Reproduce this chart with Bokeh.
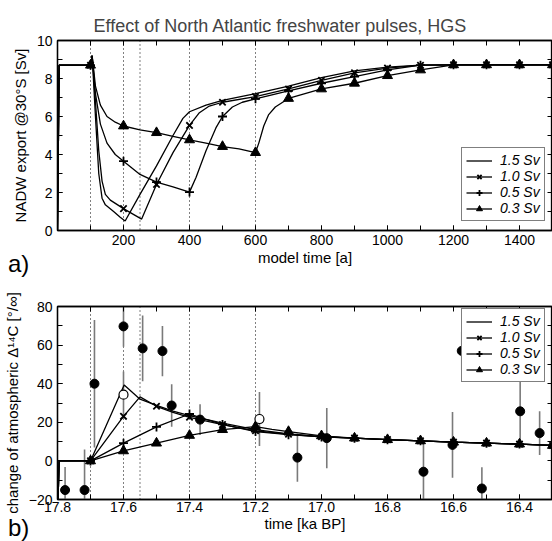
import numpy as np
from bokeh.plotting import figure
from bokeh.models import (Range1d, FixedTicker, LinearAxis, Span, Legend, LegendItem,
                          PrintfTickFormatter, CustomJSTickFormatter, Div)
from bokeh.layouts import column
from bokeh.embed import file_html
from bokeh.resources import INLINE

FONT = "Liberation Sans"

# ---------------- panel a: NADW export @30S [Sv] vs model time [a] ----------------
nadw_t_15 = [0, 5, 100, 105, 115, 125, 135, 145, 170, 190, 205, 250, 300, 350, 380, 400, 450, 500,
             600, 700, 800, 900, 1000, 1100, 1200, 1300, 1400, 1500]
nadw_v_15 = [0, 8.7, 8.7, 9.2, 6.0, 3.0, 1.7, 1.35, 1.0, 0.7, 0.5, 1.9, 3.4, 5.0, 5.9, 6.25, 6.6, 6.85,
             7.2, 7.6, 8.05, 8.4, 8.6, 8.7, 8.72, 8.72, 8.72, 8.72]
nadw_t_10 = [0, 5, 100, 105, 115, 125, 135, 145, 160, 200, 230, 255, 300, 350, 400, 430, 460, 500,
             600, 700, 800, 900, 1000, 1100, 1200, 1300, 1400, 1500]
nadw_v_10 = [0, 8.7, 8.7, 9.2, 6.8, 4.2, 2.6, 1.9, 1.6, 1.15, 0.85, 0.6, 2.42, 4.1, 5.53, 6.2, 6.55, 6.75,
             7.05, 7.45, 7.9, 8.3, 8.55, 8.7, 8.72, 8.72, 8.72, 8.72]
nadw_t_05 = [0, 5, 100, 105, 115, 130, 150, 175, 200, 250, 300, 350, 400, 420, 450, 480, 500, 530, 560,
             600, 700, 800, 900, 1000, 1100, 1200, 1300, 1400, 1500]
nadw_v_05 = [0, 8.7, 8.7, 9.2, 7.2, 5.6, 4.6, 4.0, 3.65, 2.95, 2.55, 2.3, 2.02, 2.8, 4.2, 5.4, 6.0, 6.5, 6.75,
             6.93, 7.35, 7.75, 8.1, 8.45, 8.7, 8.72, 8.72, 8.72, 8.72]
nadw_t_03 = [0, 5, 100, 105, 115, 130, 150, 175, 200, 250, 300, 350, 400, 450, 500, 550, 600, 610, 625,
             640, 660, 700, 800, 900, 1000, 1100, 1200, 1300, 1400, 1500]
nadw_v_03 = [0, 8.7, 8.7, 9.2, 7.6, 6.6, 6.0, 5.7, 5.5, 5.3, 5.15, 4.95, 4.77, 4.6, 4.42, 4.3, 4.1, 4.6, 5.5,
             6.1, 6.5, 6.95, 7.45, 7.75, 8.15, 8.45, 8.72, 8.72, 8.72, 8.72]
pulse_end_a = [100, 200, 250, 400, 600]
xticks_a = [200, 400, 600, 800, 1000, 1200, 1400]
xminor_a = list(range(100, 1600, 100))
yticks_a = [0, 2, 4, 6, 8, 10]
yminor_a = list(range(0, 11))

# ---------------- panel b: change of atmospheric D14C vs time [ka BP] ----------------
c14_t_15 = [17.8, 17.795, 17.7, 17.598, 17.57, 17.55, 17.5, 17.45, 17.4, 17.3, 17.2, 17.1, 17.0,
            16.9, 16.8, 16.7, 16.6, 16.5, 16.4, 16.3]
c14_v_15 = [-30, 0, 0, 39.3, 35.0, 32.0, 28.8, 25.8, 23.5, 19.6, 16.2, 14.0, 12.6,
            11.8, 11.0, 10.4, 9.7, 9.2, 8.7, 8.0]
c14_t_10 = [17.8, 17.795, 17.7, 17.6, 17.55, 17.5, 17.45, 17.4, 17.3, 17.2, 17.1, 17.0,
            16.9, 16.8, 16.7, 16.6, 16.5, 16.4, 16.3]
c14_v_10 = [-30, 0, 0, 23.1, 33.2, 28.3, 25.2, 22.6, 18.8, 15.6, 13.8, 12.5,
            11.8, 11.0, 10.4, 9.7, 9.2, 8.7, 8.0]
c14_t_05 = [17.8, 17.795, 17.7, 17.6, 17.5, 17.4, 17.35, 17.3, 17.2, 17.1, 17.0,
            16.9, 16.8, 16.7, 16.6, 16.5, 16.4, 16.3]
c14_v_05 = [-30, 0, 0, 9.2, 17.6, 24.3, 21.5, 18.9, 15.2, 13.6, 12.4,
            11.8, 11.0, 10.4, 9.7, 9.2, 8.7, 8.0]
c14_t_03 = [17.8, 17.795, 17.7, 17.6, 17.5, 17.4, 17.3, 17.2, 17.15, 17.1, 17.0,
            16.9, 16.8, 16.7, 16.6, 16.5, 16.4, 16.3]
c14_v_03 = [-30, 0, 0, 5.2, 9.2, 13.2, 16.2, 17.8, 16.3, 15.2, 13.0,
            11.8, 11.0, 10.4, 9.7, 9.2, 8.7, 8.0]
obs_t = [17.777, 17.718, 17.688, 17.600, 17.542, 17.482, 17.454, 17.368, 17.073, 16.984,
         16.691, 16.603, 16.575, 16.514, 16.398, 16.339]
obs_v = [-15.1, -15.1, 40.0, 69.7, 58.3, 56.9, 28.7, 21.4, 1.7, 11.8,
         -5.6, 8.3, 57.0, -14.3, 25.7, 14.4]
obs_e = [12, 21, 33, 10.5, 17, 13, 11, 8, 12.5, 15.6,
         16, 17, 10, 11, 17, 11.3]
open_t = [17.600, 17.188]
open_v = [34.3, 21.7]
open_e = [12, 14]
pulse_end_b = [17.7, 17.6, 17.55, 17.4, 17.2]
xticks_b = [17.8, 17.6, 17.4, 17.2, 17.0, 16.8, 16.6, 16.4]
xminor_b = [17.8, 17.7, 17.6, 17.5, 17.4, 17.3, 17.2, 17.1, 17.0, 16.9, 16.8, 16.7, 16.6, 16.5, 16.4, 16.3]
yticks_b = [-20, 0, 20, 40, 60, 80]
yminor_b = [-20, -10, 0, 10, 20, 30, 40, 50, 60, 70, 80]

labels = ["1.5 Sv", "1.0 Sv", "0.5 Sv", "0.3 Sv"]
markers = [None, "x", "cross", "triangle"]


def style_axis(ax, show_labels=True):
    ax.axis_line_color = "black"
    ax.axis_line_width = 1.3
    ax.major_tick_in = 5
    ax.major_tick_out = 0
    ax.minor_tick_in = 5
    ax.minor_tick_out = 0
    ax.major_tick_line_color = "black"
    ax.minor_tick_line_color = "black"
    ax.major_label_text_font = FONT
    ax.major_label_text_color = "black"
    ax.axis_label_text_font = FONT
    ax.axis_label_text_font_style = "normal"
    ax.axis_label_text_color = "black"
    ax.axis_label_text_font_size = "15px"
    if show_labels:
        ax.major_label_text_font_size = "14px"
    else:
        ax.formatter = CustomJSTickFormatter(code="return '';")
        ax.major_label_text_font_size = "1px"
        ax.major_label_standoff = 0


def make_fig(height, xr, yr, xt, xm, yt, ym, border_top, border_bottom):
    p = figure(width=552, height=height, x_range=xr, y_range=yr,
               output_backend="svg", toolbar_location=None,
               min_border_left=53, min_border_right=0,
               min_border_top=border_top, min_border_bottom=border_bottom)
    p.xgrid.visible = False
    p.ygrid.visible = False
    p.outline_line_color = "black"
    p.outline_line_width = 1.3
    xa = p.xaxis[0]
    ya = p.yaxis[0]
    xa.ticker = FixedTicker(ticks=xt, minor_ticks=xm)
    ya.ticker = FixedTicker(ticks=yt, minor_ticks=ym)
    style_axis(xa)
    style_axis(ya)
    top = LinearAxis(ticker=FixedTicker(ticks=xm, minor_ticks=[]))
    style_axis(top, show_labels=False)
    p.add_layout(top, "above")
    right = LinearAxis(ticker=FixedTicker(ticks=ym, minor_ticks=[]))
    style_axis(right, show_labels=False)
    p.add_layout(right, "right")
    return p, xa, ya


def add_series(p, ts, vs, mask_fn):
    items = []
    for t, v, lab, mk in zip(ts, vs, labels, markers):
        t = np.asarray(t, dtype=float)
        v = np.asarray(v, dtype=float)
        r = [p.line(t, v, line_color="black", line_width=1.3)]
        if mk is not None:
            m = mask_fn(t)
            if mk == "triangle":
                r.append(p.scatter(t[m], v[m], marker="triangle", size=10,
                                   fill_color="black", line_color="black"))
            else:
                r.append(p.scatter(t[m], v[m], marker=mk, size=9,
                                   line_color="black", line_width=1.8))
        items.append(LegendItem(label=lab, renderers=r))
    return items


def add_legend(p, items, loc):
    lg = Legend(items=items, location=loc, orientation="vertical")
    lg.label_text_font = FONT
    lg.label_text_font_style = "italic"
    lg.label_text_font_size = "14px"
    lg.label_text_line_height = 1.0
    lg.label_text_color = "black"
    lg.label_height = 15
    lg.glyph_height = 15
    lg.glyph_width = 26
    lg.label_standoff = 8
    lg.spacing = 0
    lg.padding = 4
    lg.margin = 0
    lg.border_line_color = "black"
    lg.border_line_width = 1.2
    lg.background_fill_color = "white"
    lg.background_fill_alpha = 1.0
    p.add_layout(lg, "center")


def panel_tag(text, height, top_margin):
    return Div(text=text, width=40, height=height, margin=(top_margin, 0, 0, 8),
               styles={"font-family": FONT, "font-size": "24px",
                       "line-height": "%dpx" % height, "color": "black"})


# ---------------- figure a ----------------
pa, xa_a, ya_a = make_fig(278, Range1d(0, 1500), Range1d(0, 10), xticks_a, xminor_a, yticks_a, yminor_a, 40, 48)
pa.title.text = "Effect of North Atlantic freshwater pulses, HGS"
pa.title.text_font = FONT
pa.title.text_font_size = "18px"
pa.title.text_font_style = "normal"
pa.title.align = "left"
pa.title.offset = 36
xa_a.axis_label = "model time [a]"
ya_a.axis_label = "NADW export @30°S [Sv]"
xa_a.major_label_standoff = 4
xa_a.axis_label_standoff = 1
for x in pulse_end_a:
    pa.add_layout(Span(location=x, dimension="height", line_color="black",
                       line_width=1, line_dash="1 3", level="underlay"))
items_a = add_series(pa, [nadw_t_15, nadw_t_10, nadw_t_05, nadw_t_03],
                     [nadw_v_15, nadw_v_10, nadw_v_05, nadw_v_03],
                     lambda t: (t >= 99) & (np.abs(t / 100 - np.round(t / 100)) < 1e-6))
add_legend(pa, items_a, (404, 9))

# ---------------- figure b ----------------
pb, xa_b, ya_b = make_fig(263, Range1d(17.8, 16.3), Range1d(-20, 80), xticks_b, xminor_b, yticks_b, yminor_b, 28, 42)
xa_b.formatter = PrintfTickFormatter(format="%.1f")
xa_b.axis_label = "time [ka BP]"
ya_b.axis_label = "change of atmospheric Δ¹⁴C [°/∞]"
xa_b.major_label_standoff = 2
xa_b.axis_label_standoff = 0
for x in pulse_end_b:
    pb.add_layout(Span(location=x, dimension="height", line_color="black",
                       line_width=1, line_dash="1 3", level="underlay"))
ot = np.asarray(obs_t); ov = np.asarray(obs_v); oe = np.asarray(obs_e)
pb.segment(ot, ov - oe, ot, ov + oe, line_color="#7a7a7a", line_width=1.6)
qt = np.asarray(open_t); qv = np.asarray(open_v); qe = np.asarray(open_e)
pb.segment(qt, qv - qe, qt, qv + qe, line_color="#7a7a7a", line_width=1.6)
items_b = add_series(pb, [c14_t_15, c14_t_10, c14_t_05, c14_t_03],
                     [c14_v_15, c14_v_10, c14_v_05, c14_v_03],
                     lambda t: (t < 17.75) & (np.abs(t * 10 - np.round(t * 10)) < 1e-6))
pb.scatter(ot, ov, marker="circle", size=9, fill_color="black", line_color="black")
pb.scatter(qt, qv, marker="circle", size=9, fill_color="white", line_color="black", line_width=1.2)
add_legend(pb, items_b, (404, 117))

tag_a = panel_tag("a)", 28, -28)
tag_b = panel_tag("b)", 24, -25)
layout = column(pa, tag_a, pb, tag_b, spacing=0)
open("out.html", "w").write(file_html(layout, INLINE))
